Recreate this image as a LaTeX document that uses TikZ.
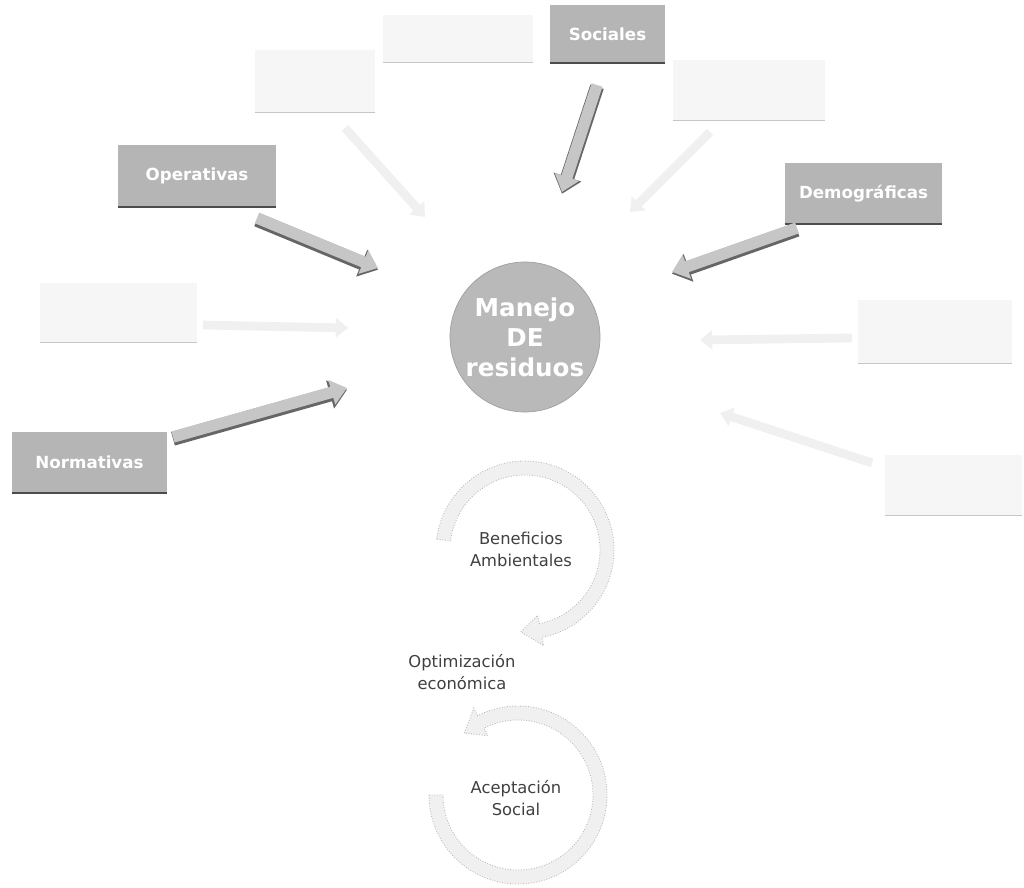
\documentclass[tikz,border=0pt]{standalone}
\usepackage{fontspec}
\setmainfont{DejaVu Sans}
\usetikzlibrary{arrows.meta,calc}
\newcommand\bandarrow[7]{%
  \pgfmathsetmacro\tb{#6-#7}%
  \filldraw[band] ({#1+(#3+#4)*cos(#5)},{#2+(#3+#4)*sin(#5)})
    arc[start angle=#5,end angle=\tb,radius=#3+#4]
    -- ({#1+(#3+2.2*#4)*cos(\tb)},{#2+(#3+2.2*#4)*sin(\tb)})
    -- ({#1+#3*cos(#6)},{#2+#3*sin(#6)})
    -- ({#1+(#3-2.2*#4)*cos(\tb)},{#2+(#3-2.2*#4)*sin(\tb)})
    -- ({#1+(#3-#4)*cos(\tb)},{#2+(#3-#4)*sin(\tb)})
    arc[start angle=\tb,end angle=#5,radius=#3-#4] -- cycle;}
\begin{document}
\begin{tikzpicture}[x=0.02cm,y=-0.02cm,
  mainbox/.style={fill=gray!58, draw=none, text=white, inner sep=0pt,
    font=\bfseries\fontsize{9.5}{11}\selectfont},
  faintbox/.style={fill=gray!7, draw=none, inner sep=0pt},
  hub/.style={circle, fill=gray!55, draw=gray!75, text=white, align=center,
    minimum size=3cm, inner sep=0pt, font=\bfseries\fontsize{14}{17}\selectfont},
  blkshadow/.style={line width=8pt, draw=black!60, -{Triangle[width=16pt,length=10pt]},
    transform canvas={yshift=-1pt}},
  blk/.style={line width=6.5pt, draw=gray!45, -{Triangle[width=14pt,length=9pt]}},
  fblk/.style={line width=5pt, draw=gray!12, -{Triangle[width=11pt,length=7pt]}},
  band/.style={fill=gray!12, draw=gray!55, line width=0.5pt, densely dotted},
  lbl/.style={align=center, text=black!75, font=\fontsize{9.3}{12.5}\selectfont}]
\useasboundingbox (0,0) rectangle (1024,888);

% main boxes
\node[mainbox, minimum width=2.3cm, minimum height=1.16cm] (soc) at (607.5,34) {Sociales};
\node[mainbox, minimum width=3.16cm, minimum height=1.24cm] (ope) at (197,176) {Operativas};
\node[mainbox, minimum width=3.14cm, minimum height=1.22cm] (dem) at (863.5,193.5) {Demográficas};
\node[mainbox, minimum width=3.1cm, minimum height=1.22cm] (nor) at (89.5,462.5) {Normativas};

% faint boxes
\node[faintbox, minimum width=2.4cm, minimum height=1.24cm] (ftl) at (315,81) {};
\node[faintbox, minimum width=3cm, minimum height=0.94cm] (ftm) at (458,38.5) {};
\node[faintbox, minimum width=3.04cm, minimum height=1.2cm] (ftr) at (749,90) {};
\node[faintbox, minimum width=3.14cm, minimum height=1.18cm] (fl) at (118.5,312.5) {};
\node[faintbox, minimum width=3.08cm, minimum height=1.26cm] (fr) at (935,331.5) {};
\node[faintbox, minimum width=2.74cm, minimum height=1.2cm] (fbr) at (953.5,485) {};

\foreach \n in {soc,ope,dem,nor}
  \draw[black!70, line width=1.3pt] (\n.south west) -- (\n.south east);
\foreach \n in {ftl,ftm,ftr,fl,fr,fbr}
  \draw[gray!45, line width=0.8pt] (\n.south west) -- (\n.south east);

% hub
\node[hub] (hub) at (525,337) {Manejo\\DE\\residuos};

% arrow end points
\coordinate (socA) at (597,85);  \coordinate (socB) at (562,192);
\coordinate (opeA) at (257,218); \coordinate (opeB) at (378,268);
\coordinate (demA) at (797,228); \coordinate (demB) at (672,272);
\coordinate (norA) at (173,437); \coordinate (norB) at (347,388);
\coordinate (ftlA) at (345,128); \coordinate (ftlB) at (425,217);
\coordinate (ftrA) at (710,132); \coordinate (ftrB) at (630,212);
\coordinate (flA) at (203,325);  \coordinate (flB) at (348,328);
\coordinate (frA) at (852,338);  \coordinate (frB) at (700,340);
\coordinate (fbrA) at (872,463); \coordinate (fbrB) at (720,413);

\foreach \n in {soc,ope,dem,nor}{
  \draw[blkshadow] (\n A) -- (\n B);
  \draw[blk] (\n A) -- (\n B);}
\foreach \n in {ftl,ftr,fl,fr,fbr}
  \draw[fblk] (\n A) -- (\n B);

% cycle arrows
\bandarrow{525}{550}{82}{7}{187}{453}{14}
\bandarrow{518}{795}{82}{7}{540}{229}{-14}

\node[lbl] (ben) at (521,549) {Beneficios\\Ambientales};
\node[lbl] (opt) at (462,672) {Optimización\\económica};
\node[lbl] (ace) at (516,798) {Aceptación\\Social};
\end{tikzpicture}
\end{document}
